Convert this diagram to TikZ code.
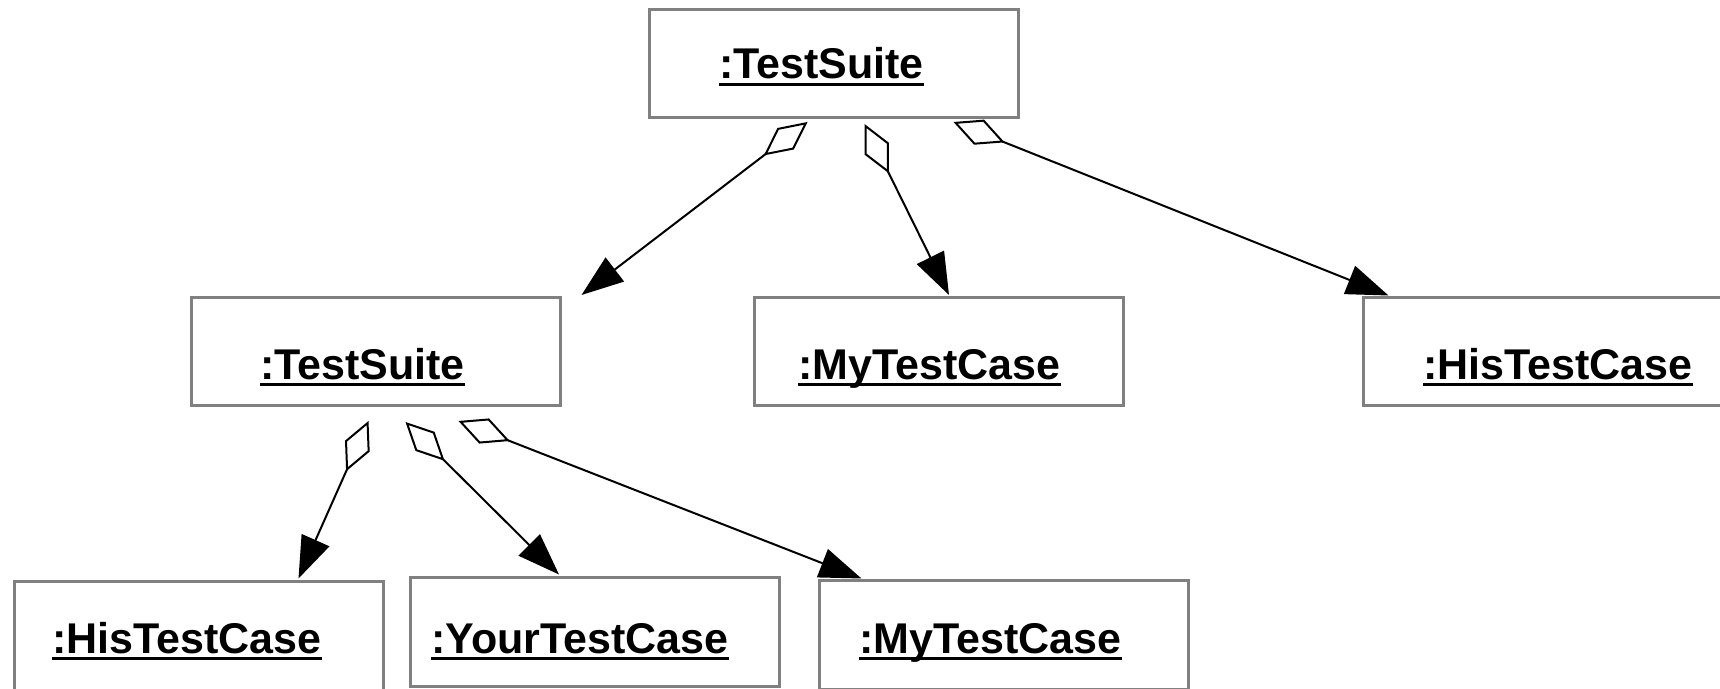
\documentclass[tikz,border=0pt]{standalone}
\usepackage{fontspec}
\setmainfont{Liberation Sans}
\usetikzlibrary{arrows.meta,calc}
\definecolor{boxgray}{RGB}{128,128,128}
\newcommand{\objul}[1]{\setbox0=\hbox{#1}\rlap{\rule[-3.5pt]{\wd0}{1.5pt}}\box0}

\begin{document}
\begin{tikzpicture}[x=0.5pt,y=-0.5pt,
  obj/.style={draw=boxgray,line width=1.5pt,minimum width=184.5pt,minimum height=54pt,inner sep=0pt},
  objname/.style={anchor=base,inner sep=0pt,font=\fontsize{21.5}{26}\selectfont\bfseries},
  agg/.style={line width=1pt,{Diamond[open,length=27.5pt,width=13.5pt]}-{Triangle[length=21pt,width=15pt]}}]
  \clip (0,0) rectangle (1720,689);

  % object boxes
  \node[obj] (ts0) at (833.5,63.5) {};
  \node[obj] (ts1) at (375.5,351.5) {};
  \node[obj] (mytc1) at (939,351.5) {};
  \node[obj] (histc1) at (1547.5,352) {};
  \node[obj] (histc2) at (198.5,636) {};
  \node[obj] (yourtc) at (595,632) {};
  \node[obj] (mytc2) at (1003.5,635) {};

  % names
  \node[objname] (ts0n) at ($(ts0)+(-12,15.5)$) {\objul{:TestSuite}};
  \node[objname] (ts1n) at ($(ts1)+(-13,28)$) {\objul{:TestSuite}};
  \node[objname] (mytc1n) at ($(mytc1)+(-9.5,28)$) {\objul{:MyTestCase}};
  \node[objname] (histc1n) at ($(histc1)+(10.5,27.5)$) {\objul{:HisTestCase}};
  \node[objname] (histc2n) at ($(histc2)+(-11.5,17.5)$) {\objul{:HisTestCase}};
  \node[objname] (yourtcn) at ($(yourtc)+(-15,21.5)$) {\objul{:YourTestCase}};
  \node[objname] (mytc2n) at ($(mytc2)+(-13,18.5)$) {\objul{:MyTestCase}};

  % aggregations
  \draw[agg] ($(ts0.south)+(-26,3)$) -- ($(ts1.north east)+(20,-1)$);
  \draw[agg] ($(ts0.south)+(31,5)$) -- ($(mytc1.north)+(10,-1)$);
  \draw[agg] ($(ts0.south)+(120,3)$) -- ($(histc1.north west)+(27,-1)$);
  \draw[agg] ($(ts1.south)+(-7,14)$) -- ($(histc2.north east)+(-86,-2)$);
  \draw[agg] ($(ts1.south)+(30,15)$) -- ($(yourtc.north)+(-36,-2)$);
  \draw[agg] ($(ts1.south)+(83,14)$) -- ($(mytc2.north west)+(44,-1)$);
\end{tikzpicture}
\end{document}
